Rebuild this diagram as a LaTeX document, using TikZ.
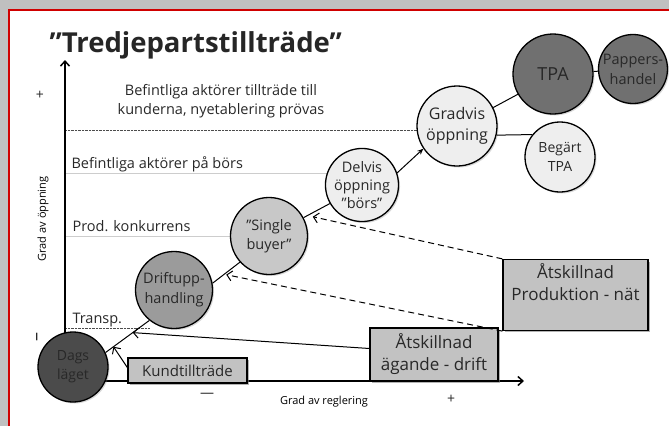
\documentclass[tikz,border=0pt]{standalone}
\usepackage{fontspec}
\setmainfont{Open Sans}
\usetikzlibrary{positioning,arrows.meta,shadows}
\definecolor{framegray}{RGB}{192, 192, 192}
\definecolor{framered}{RGB}{208, 0, 0}
\definecolor{darkfill}{RGB}{75, 75, 75}
\definecolor{tpafill}{RGB}{112, 112, 112}
\definecolor{midfill}{RGB}{155, 155, 155}
\definecolor{lightfill}{RGB}{200, 200, 200}
\definecolor{palefill}{RGB}{238, 238, 238}
\definecolor{boxfill}{RGB}{194, 194, 194}
\definecolor{txtgray}{RGB}{40, 40, 40}
\definecolor{rulegray}{RGB}{205, 205, 205}

\tikzset{
  bubble/.style={circle, draw=black, line width=1.3pt, inner sep=0pt, align=center,
    text=txtgray, font=\fontsize{15}{18}\selectfont,
    drop shadow={shadow xshift=1.5pt, shadow yshift=-1.5pt, opacity=0.3}},
  stagebox/.style={rectangle, draw=black, line width=1.3pt, fill=boxfill, align=center,
    text=txtgray, font=\fontsize{17}{22}\selectfont,
    drop shadow={shadow xshift=2pt, shadow yshift=-2pt, opacity=0.6}},
  level/.style={anchor=base west, text=txtgray, font=\fontsize{14.5}{17}\selectfont},
  tick/.style={text=txtgray, font=\fontsize{14}{16}\selectfont},
  axislabel/.style={font=\fontsize{11}{12}\selectfont},
  link/.style={line width=1pt},
  feed/.style={line width=1pt, -{Straight Barb[length=5pt, width=10pt]}},
}

\begin{document}
\begin{tikzpicture}[x=1pt, y=-1pt]
    \useasboundingbox (0,0) rectangle (669,426);
    % Frame
    \fill[framegray] (0,0) rectangle (669,9);
    \fill[framegray] (0,0) rectangle (8,426);
    \draw[framered, line width=2.5pt] (9,426) -- (9,10) -- (669,10);

    % Title
    \node[anchor=base west, font=\fontsize{27.5}{30}\selectfont\bfseries, text=black!85] (title) at (46,52) {”Tredjepartstillträde”};

    % Level lines
    \draw[densely dotted, black!70] (65,130) -- (430,130);
    \draw[rulegray] (65,173) -- (340,173);
    \draw[rulegray] (65,236) -- (245,236);
    \draw[densely dotted, black!70] (65,328) -- (150,328);

    % Level texts
    \node[text=txtgray, align=center, font=\fontsize{14.5}{19}\selectfont] (lvlfour) at (221,101) {Befintliga aktörer tillträde till\\kunderna, nyetablering prövas};
    \node[level] (lvlthree) at (68,168) {Befintliga aktörer på börs};
    \node[level] (lvltwo) at (69,231) {Prod. konkurrens};
    \node[level] (lvlone) at (69,323) {Transp.};

    % Axes
    \coordinate (origin) at (65,381);
    \coordinate (ytop) at (65,60);
    \coordinate (xend) at (524,381);
    \draw[line width=1.5pt, -{Straight Barb[length=5pt, width=9pt]}] (origin) -- (ytop);
    \draw[line width=1.5pt, -{Straight Barb[length=5pt, width=9pt]}] (origin) -- (xend);
    \node[tick] (yplus) at (40,95) {+};
    \node[tick, rotate=90, font=\fontsize{18}{20}\selectfont] (yminus) at (39,337) {–};
    \node[tick] (xminus) at (207,395) {—};
    \node[tick] (xplus) at (451,399) {+};
    \node[axislabel, rotate=90] (ylabel) at (43,219) {Grad av öppning};
    \node[axislabel] (xlabel) at (324,402) {Grad av reglering};

    % Stages
    \node[bubble, fill=darkfill, minimum size=70pt, font=\fontsize{14}{19}\selectfont] (dags) at (73,367) {Dags\\läget};
    \node[bubble, fill=midfill, minimum size=77pt, font=\fontsize{14.5}{20}\selectfont] (drift) at (174,290) {Driftupp-\\handling};
    \node[bubble, fill=lightfill, minimum size=77pt, font=\fontsize{14.5}{19}\selectfont] (single) at (269,236) {”Single\\buyer”};
    \node[bubble, fill=palefill, minimum size=72pt, font=\fontsize{14.5}{18}\selectfont] (delvis) at (362,185) {Delvis\\öppning\\”börs”};
    \node[bubble, fill=palefill, minimum size=80pt, font=\fontsize{16}{21}\selectfont] (gradvis) at (457,126) {Gradvis\\öppning};
    \node[bubble, fill=tpafill, minimum size=80pt, font=\fontsize{18}{20}\selectfont] (tpa) at (553,74) {TPA};
    \node[bubble, fill=tpafill, minimum size=69pt, font=\fontsize{14.5}{20}\selectfont] (pappers) at (633,69) {Pappers-\\handel};
    \node[bubble, fill=palefill, minimum size=70pt, font=\fontsize{14}{19}\selectfont] (begart) at (560,157) {Begärt\\TPA};

    % Measures
    \node[stagebox, minimum width=119pt, minimum height=25pt, inner sep=0pt, font=\fontsize{15}{17}\selectfont] (kund) at (187.5,370.5) {Kundtillträde};
    \node[stagebox, minimum width=128pt, minimum height=53pt, inner sep=2pt] (agande) at (434,354.5) {Åtskillnad\\ägande - drift};
    \node[stagebox, minimum width=145pt, inner ysep=4pt, text depth=26pt] (prod) at (575.5,295) {Åtskillnad\\Produktion - nät};

    % Path of stages
    \draw[link] (dags.24) -- coordinate[pos=0.18] (kundhit) coordinate[pos=0.62] (agandehit) (drift.231);
    \draw[link] (drift.10) -- coordinate[pos=0.5] (prodlow) (single.222);
    \draw[link] (single.28) -- coordinate[pos=0.35] (prodhigh) (delvis.210);
    \draw[link, -{Stealth[length=6pt, width=5pt]}] (delvis.19) -- (gradvis.214);
    \draw[link] (gradvis.27) -- (tpa.210);
    \draw[link] (tpa) -- (pappers);
    \draw[link] (gradvis.-13) -- (begart.141);

    % Measures acting on the path
    \draw[feed] ([yshift=3pt]kund.west) -- (kundhit);
    \draw[feed] ([yshift=6pt]agande.west) -- (agandehit);
    \draw[feed, dashed, dash pattern=on 6pt off 4pt] (prod.north west) -- ([yshift=-4pt]prodhigh);
    \draw[feed, dashed, dash pattern=on 6pt off 4pt] (prod.south west) -- ([yshift=-2pt]prodlow);
\end{tikzpicture}
\end{document}
